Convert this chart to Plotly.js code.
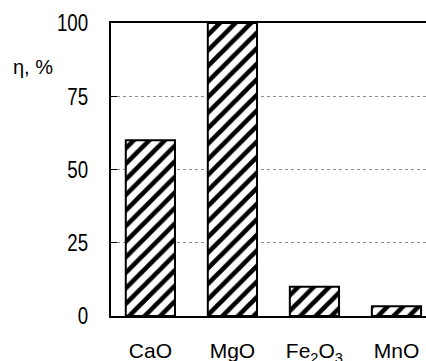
<!DOCTYPE html>
<html>
<head>
<meta charset="utf-8">
<script src="https://cdn.plot.ly/plotly-3.0.1.min.js"></script>
<style>html,body{margin:0;padding:0;overflow:hidden;background:#fff}</style>
</head>
<body>
<div id="chart" style="width:426px;height:361px"></div>
<script>
const categories = ["CaO", "MgO", "Fe<sub>2</sub>O<sub>3</sub>", "MnO"];
const efficiency = [60, 100, 10, 3.3];
const yTicks = [0, 25, 50, 75, 100];
const yLabel = "η, %";

const regular = "'Liberation Sans', Arial, sans-serif";

const trace = {
  type: "bar",
  x: [0, 1, 2, 3],
  y: efficiency,
  width: 0.6,
  marker: {
    color: "#ffffff",
    line: {color: "#000000", width: 2},
    pattern: {shape: "/", fgcolor: "#000000", bgcolor: "#ffffff", size: 11, solidity: 0.42}
  },
  hoverinfo: "none"
};

const layout = {
  width: 426, height: 361,
  margin: {l: 111, r: 0, t: 23, b: 45},
  paper_bgcolor: "#ffffff", plot_bgcolor: "#ffffff",
  showlegend: false,
  bargap: 0.4,
  xaxis: {
    range: [-0.48, 3.36],
    tickvals: [0, 1, 2, 3],
    ticktext: categories,
    ticks: "",
    showgrid: false, zeroline: false,
    showline: true, linecolor: "#000000", linewidth: 2, mirror: true,
    tickfont: {family: regular, size: 21, color: "#000000"},
    ticklabelstandoff: 15
  },
  yaxis: {
    range: [0, 100],
    tickvals: yTicks,
    ticktext: yTicks.map(String),
    ticks: "inside", ticklen: 6, tickwidth: 1, tickcolor: "#000000",
    showgrid: true, gridcolor: "#8c8c8c", gridwidth: 1, griddash: "dot",
    zeroline: false,
    showline: true, linecolor: "#000000", linewidth: 2,
    tickfont: {family: regular, size: 24, color: "#000000"},
    ticklabelstandoff: 16
  },
  annotations: [{
    text: yLabel, xref: "paper", yref: "paper",
    x: -111/315 + 33/315, y: 1 - (67-23)/293,
    xanchor: "center", yanchor: "middle", showarrow: false,
    font: {family: regular, size: 20, color: "#000000"}
  }]
};

Plotly.newPlot("chart", [trace], layout, {displayModeBar: false, staticPlot: true}).then(function (gd) {
  // condensed look of the y tick numbers: narrow each label horizontally around its right anchor
  gd.querySelectorAll(".ytick text").forEach(function (t) {
    const x = parseFloat(t.getAttribute("x")) || 0;
    const y = parseFloat(t.getAttribute("y")) || 0;
    const prev = t.getAttribute("transform") || "";
    t.setAttribute("transform", prev + " translate(" + x + "," + y + ") scale(0.78,1) translate(" + (-x) + "," + (-y) + ")");
  });
});
</script>
</body>
</html>
